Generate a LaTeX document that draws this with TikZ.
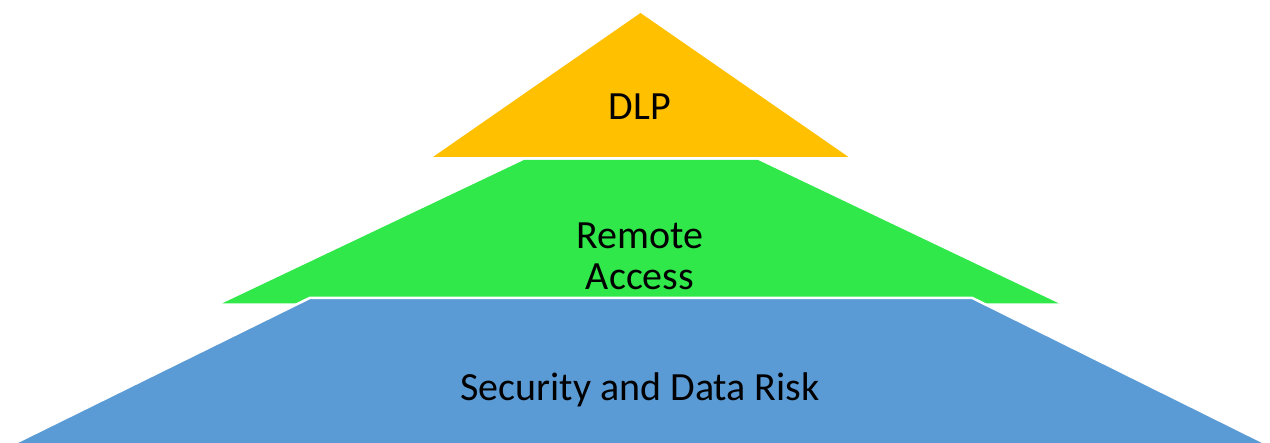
\documentclass[tikz,border=0pt]{standalone}
\usepackage{fontspec}
\setmainfont{Carlito}
\definecolor{gold}{HTML}{FFC000}
\definecolor{lgreen}{HTML}{31E84B}
\definecolor{lblue}{HTML}{5B9BD5}
\begin{document}
\begin{tikzpicture}[x=1pt,y=-1pt,
  layer/.style={draw=none},
  edged/.style={draw=white,line width=2.5pt,line join=round},
  lbl/.style={font=\fontsize{40}{41}\selectfont,align=center,text=black}]
\useasboundingbox (0,0) rectangle (1270,443);
\path[fill=white] (0,0) rectangle (1270,443);
\begin{scope}
\clip (0,0) rectangle (1270,443);
\fill[lgreen] (524,160) -- (758,160) -- (1059,303.5) -- (222,303.5) -- cycle;
\fill[gold] (640.5,13) -- (848.5,157) -- (433,157) -- cycle;
\filldraw[edged,fill=lblue] (310,297.8) -- (972,297.8) -- (1274,447.5) -- (6,447.5) -- cycle;
\end{scope}
\node[lbl] (dlp) at (640,107) {DLP};
\node[lbl] (ra) at (640,256) {Remote\\Access};
\node[lbl] (sdr) at (640,390) {Security and Data Risk};
\end{tikzpicture}
\end{document}
